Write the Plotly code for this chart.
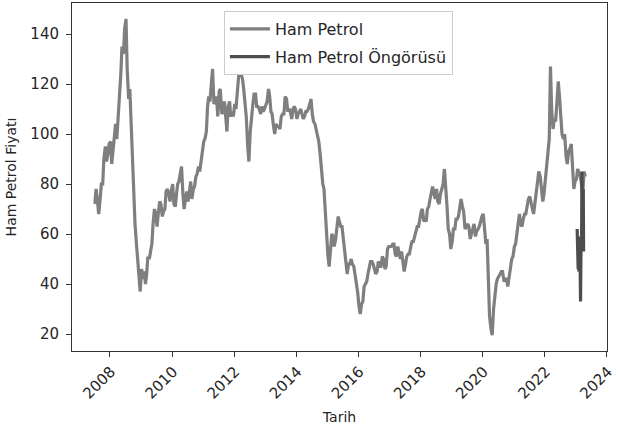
import pandas as pd
import plotly.graph_objects as go

# ---- Data ----
start_month = "2007-07"
# value near the 8th of each month (Jul 2007 .. Apr 2023)
first_half = [
    72, 73, 74, 80, 95, 92,                                   # 2007
    97, 94, 104, 106, 124, 132, 146, 114, 102, 80, 56, 44,    # 2008
    46, 45, 44, 50, 56, 70, 63, 73, 67, 70, 78, 73,           # 2009
    80, 71, 80, 85, 76, 74, 73, 81, 78, 83, 87, 90,           # 2010
    97, 101, 115, 122, 112, 115, 117, 108, 113, 101, 113, 109,  # 2011
    112, 118, 126, 122, 112, 95, 101, 112, 116, 111, 108, 109,  # 2012
    112, 118, 109, 103, 104, 103, 107, 108, 114, 110, 106, 111,  # 2013
    106, 109, 108, 107, 109, 112, 108, 104, 99, 92, 80, 68,   # 2014
    51, 57, 59, 58, 67, 63, 58, 49, 48, 50, 47, 39,           # 2015
    31, 32, 39, 41, 47, 49, 46, 45, 47, 51, 46, 54,           # 2016
    55, 56, 52, 55, 50, 47, 48, 52, 55, 57, 62, 63,           # 2017
    69, 65, 65, 71, 77, 76, 78, 72, 78, 86, 71, 60,           # 2018
    57, 62, 66, 71, 71, 62, 64, 58, 62, 59, 62, 65,           # 2019
    68, 56, 36, 22, 30, 40, 43, 45, 41, 42, 43, 50,           # 2020
    55, 60, 68, 63, 68, 72, 75, 70, 73, 82, 83, 73,           # 2021
    82, 94, 127, 102, 105, 121, 104, 98, 91, 93, 96, 78,      # 2022
    82, 84, 80, 85,                                           # 2023
]
# value near the 22nd of each month
second_half = [
    78, 68, 80, 90, 89, 96,                                   # 2007
    88, 100, 98, 117, 135, 142, 126, 118, 92, 64, 49, 37,     # 2008
    42, 40, 51, 53, 64, 68, 68, 72, 69, 77, 76, 77,           # 2009
    72, 76, 81, 87, 70, 77, 78, 74, 79, 84, 85, 94,           # 2010
    98, 111, 113, 126, 113, 107, 118, 109, 106, 111, 107, 107,  # 2011
    110, 123, 124, 118, 107, 89, 107, 116, 111, 110, 111, 110,  # 2012
    113, 115, 108, 100, 103, 102, 108, 115, 109, 109, 110, 110,  # 2013
    108, 110, 106, 109, 110, 114, 105, 102, 97, 86, 78, 60,   # 2014
    47, 60, 55, 64, 65, 63, 55, 44, 48, 48, 44, 37,           # 2015
    28, 33, 40, 44, 49, 48, 44, 49, 47, 50, 47, 55,           # 2016
    55, 56, 51, 52, 53, 45, 51, 52, 57, 59, 63, 66,           # 2017
    70, 66, 70, 74, 79, 74, 73, 76, 80, 80, 62, 54,           # 2018
    62, 66, 67, 74, 69, 63, 63, 60, 64, 61, 63, 67,           # 2019
    61, 58, 27, 19.5, 35, 42, 44, 45, 42, 39, 47, 51,         # 2020
    56, 65, 64, 66, 68, 74, 72, 68, 76, 85, 79, 76,           # 2021
    89, 98, 110, 106, 112, 115, 100, 100, 88, 94, 87, 81,     # 2022
    86, 83, 76, 83,                                           # 2023
]

forecast_dates = [
    "2023-01-16", "2023-01-20", "2023-01-24", "2023-01-28", "2023-02-01",
    "2023-02-05", "2023-02-09", "2023-02-13", "2023-02-17", "2023-02-21",
    "2023-02-25", "2023-03-01", "2023-03-05", "2023-03-09", "2023-03-13",
    "2023-03-17", "2023-03-21", "2023-03-25", "2023-03-29", "2023-04-02",
]
forecast_values = [
    62, 50, 61, 46, 59, 45, 57, 48, 56, 44,
    33, 50, 58, 54, 85, 60, 82, 55, 78, 53,
]

y_ticks = [20, 40, 60, 80, 100, 120, 140]
x_tick_years = [2008, 2010, 2012, 2014, 2016, 2018, 2020, 2022, 2024]

# ---- Build the actual series ----
months = pd.date_range(start=start_month, periods=len(first_half), freq="MS")
dates, values = [], []
for m, a, b in zip(months, first_half, second_half):
    dates.append(m + pd.Timedelta(days=7))
    values.append(a)
    dates.append(m + pd.Timedelta(days=21))
    values.append(b)

FONT = "DejaVu Sans"
TXT = "#262626"

fig = go.Figure()
fig.add_trace(go.Scatter(
    x=dates, y=values, mode="lines", name="Ham Petrol", legendgroup="a",
    line=dict(color="#7f7f7f", width=3.2),
))
fig.add_trace(go.Scatter(
    x=pd.to_datetime(forecast_dates), y=forecast_values, mode="lines",
    name="Ham Petrol Öngörüsü", legendgroup="b",
    line=dict(color="#4d4d4d", width=3.2),
))

fig.update_layout(
    width=618, height=431,
    margin=dict(l=72, r=11, t=3, b=80),
    paper_bgcolor="white", plot_bgcolor="white",
    font=dict(family=FONT, color=TXT, size=14),
    showlegend=True,
    legend=dict(
        x=0.284, y=0.977, xanchor="left", yanchor="top",
        bgcolor="white", bordercolor="#cccccc", borderwidth=1,
        font=dict(size=16, family=FONT, color=TXT),
        itemwidth=40, tracegroupgap=4,
    ),
)
fig.update_xaxes(
    type="date",
    automargin=False,
    range=["2006-10-12", "2024-01-02"],
    tickmode="array",
    tickvals=[f"{y}-01-01" for y in x_tick_years],
    ticktext=[str(y) for y in x_tick_years],
    tickangle=-45,
    ticks="outside", ticklen=5, tickcolor="#333333",
    tickfont=dict(size=15, family=FONT, color=TXT),
    ticklabelshift=1,
    ticklabeloverflow="allow",
    showline=True, mirror=True, linecolor="#333333", linewidth=1,
    showgrid=False, zeroline=False,
    title=dict(text="Tarih", font=dict(size=14, family=FONT, color=TXT), standoff=10),
)
fig.update_yaxes(
    automargin=False,
    range=[13.2, 152.4],
    tickmode="array", tickvals=y_ticks,
    ticks="outside", ticklen=5, tickcolor="#333333",
    tickfont=dict(size=15, family=FONT, color=TXT),
    ticklabelstandoff=4,
    showline=True, mirror=True, linecolor="#333333", linewidth=1,
    showgrid=False, zeroline=False,
    title=dict(text="Ham Petrol Fiyatı", font=dict(size=14, family=FONT, color=TXT), standoff=10),
)

fig.write_html("out.html")
